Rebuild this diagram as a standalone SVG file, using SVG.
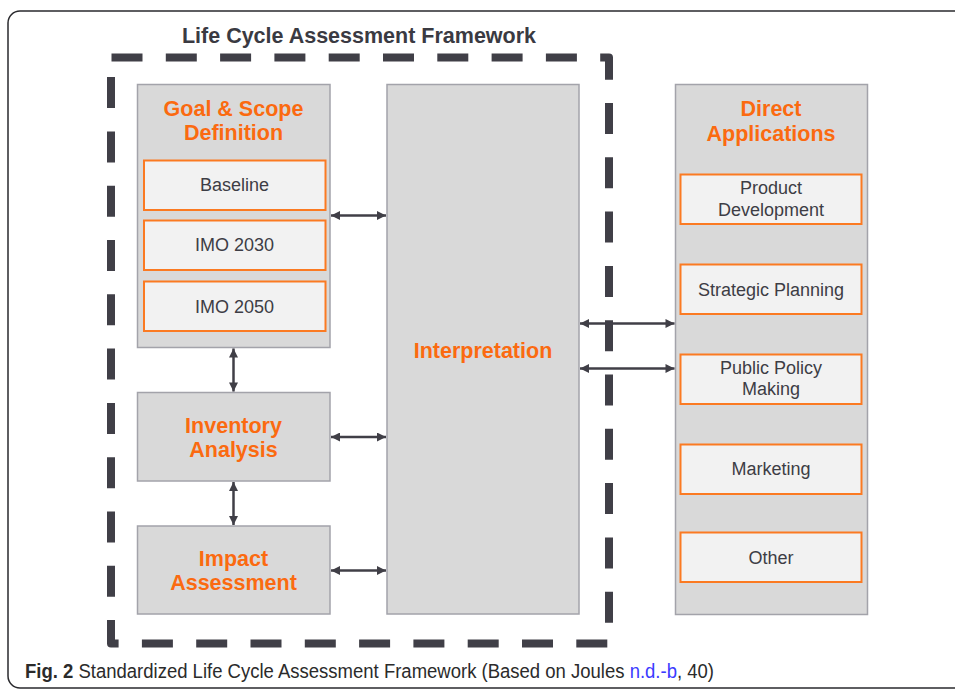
<svg xmlns="http://www.w3.org/2000/svg" width="955" height="690" viewBox="0 0 955 690">
<style>
.frame{fill:none;stroke:#2a2a2e;stroke-width:1.5}
.dash{fill:none;stroke:#403f47;stroke-width:8;stroke-dasharray:31 23.3;stroke-linejoin:round}
.box{fill:#d9d9d9;stroke:#a3a3aa;stroke-width:1.5}
.sub{fill:#f2f2f2;stroke:#fb7a22;stroke-width:2}
.ttl{font-family:"Liberation Sans",Arial,sans-serif;font-weight:bold;font-size:21.5px;fill:#fb6a10;text-anchor:middle}
.lbl{font-family:"Liberation Sans",Arial,sans-serif;font-size:18px;fill:#3d3d45;text-anchor:middle}
.head{font-family:"Liberation Sans",Arial,sans-serif;font-weight:bold;font-size:21.5px;fill:#3a3a42;text-anchor:middle}
.cap{font-family:"Liberation Sans",Arial,sans-serif;font-size:19.5px;fill:#2b2b2b}
.link{fill:#3b3bff}
.conn{stroke:#403f47;stroke-width:2.5;fill:none;marker-start:url(#ah);marker-end:url(#ah)}
</style>
<defs>
<marker id="ah" viewBox="0 0 10 10" refX="10" refY="5" markerWidth="10" markerHeight="9" markerUnits="userSpaceOnUse" orient="auto-start-reverse">
<path d="M0,0 L10,5 L0,10 Z" fill="#403f47"/>
</marker>
</defs>
<rect class="frame" x="8" y="11" width="970" height="677" rx="12"/>
<text class="head" x="359" y="43">Life Cycle Assessment Framework</text>
<g id="framework-border">
<path class="dash" d="M111.5,57.5 H609 V623"/>
<path class="dash" d="M607.3,643.5 H111 V60"/>
</g>
<g id="goal-scope">
<rect class="box" x="137.5" y="84.5" width="192.5" height="263"/>
<text class="ttl" x="233.5" y="116">Goal &amp; Scope</text>
<text class="ttl" x="233.5" y="140">Definition</text>
</g>
<g id="baseline">
<rect class="sub" x="144" y="160.5" width="181.5" height="49.5"/>
<text class="lbl" x="234.5" y="191">Baseline</text>
</g>
<g id="imo2030">
<rect class="sub" x="144" y="220.5" width="181.5" height="49.5"/>
<text class="lbl" x="234.5" y="251">IMO 2030</text>
</g>
<g id="imo2050">
<rect class="sub" x="144" y="281.5" width="181.5" height="49.5"/>
<text class="lbl" x="234.5" y="313">IMO 2050</text>
</g>
<g id="inventory">
<rect class="box" x="137.5" y="392.5" width="192.5" height="88.5"/>
<text class="ttl" x="233.5" y="433">Inventory</text>
<text class="ttl" x="233.5" y="457">Analysis</text>
</g>
<g id="impact">
<rect class="box" x="137.5" y="526" width="192.5" height="88"/>
<text class="ttl" x="233.5" y="566">Impact</text>
<text class="ttl" x="233.5" y="590">Assessment</text>
</g>
<g id="interpretation">
<rect class="box" x="387" y="84.5" width="192" height="529.5"/>
<text class="ttl" x="483" y="358">Interpretation</text>
</g>
<g id="direct-applications">
<rect class="box" x="675.5" y="84.5" width="192" height="530"/>
<text class="ttl" x="771" y="116">Direct</text>
<text class="ttl" x="771" y="141">Applications</text>
</g>
<g id="product-development">
<rect class="sub" x="680.5" y="174.5" width="181" height="49.5"/>
<text class="lbl" x="771" y="194">Product</text>
<text class="lbl" x="771" y="216">Development</text>
</g>
<g id="strategic-planning">
<rect class="sub" x="680.5" y="264.5" width="181" height="49.5"/>
<text class="lbl" x="771" y="296">Strategic Planning</text>
</g>
<g id="public-policy">
<rect class="sub" x="680.5" y="354.5" width="181" height="49.5"/>
<text class="lbl" x="771" y="374">Public Policy</text>
<text class="lbl" x="771" y="395">Making</text>
</g>
<g id="marketing">
<rect class="sub" x="680.5" y="444.5" width="181" height="49.5"/>
<text class="lbl" x="771" y="475">Marketing</text>
</g>
<g id="other">
<rect class="sub" x="680.5" y="532.5" width="181" height="49.5"/>
<text class="lbl" x="771" y="564">Other</text>
</g>
<g id="connectors">
<line class="conn" x1="331" y1="215.5" x2="386" y2="215.5"/>
<line class="conn" x1="331" y1="437" x2="386" y2="437"/>
<line class="conn" x1="331" y1="570.5" x2="386" y2="570.5"/>
<line class="conn" x1="233.5" y1="348.5" x2="233.5" y2="391.5"/>
<line class="conn" x1="233.5" y1="482" x2="233.5" y2="525"/>
<line class="conn" x1="580" y1="323.5" x2="674.5" y2="323.5"/>
<line class="conn" x1="580" y1="368.5" x2="674.5" y2="368.5"/>
</g>
<g id="caption">
<text class="cap" x="25" y="678" textLength="689" lengthAdjust="spacingAndGlyphs"><tspan font-weight="bold">Fig. 2</tspan> Standardized Life Cycle Assessment Framework (Based on Joules <tspan class="link">n.d.-b</tspan>, 40)</text>
</g>
</svg>
